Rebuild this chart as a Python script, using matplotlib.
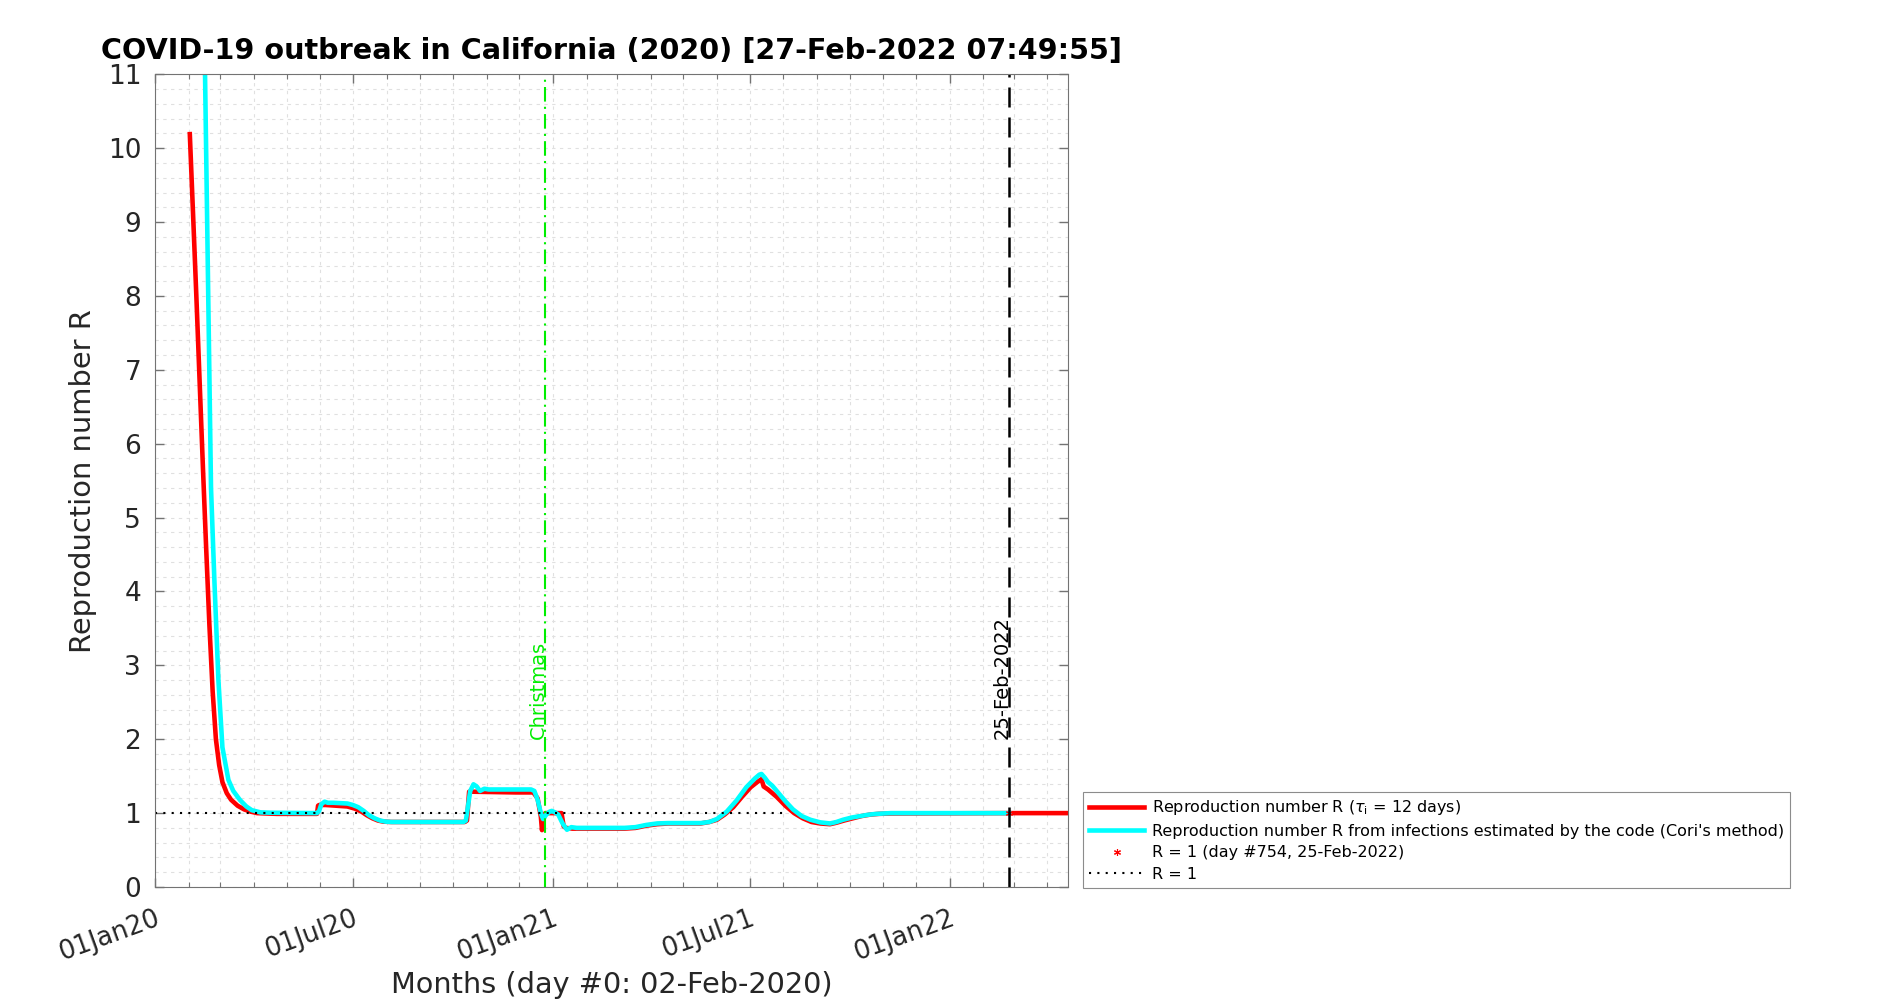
import numpy as np
import matplotlib
matplotlib.use("Agg")
import matplotlib.pyplot as plt
import matplotlib.dates as mdates
from matplotlib.ticker import MultipleLocator, FixedLocator

# Day numbers are counted from day #0 = 02-Feb-2020
day0 = mdates.datestr2num("2020-02-02")

# Reproduction number R (tau_i = 12 days)
red_days = [0, 3, 6, 9, 12, 15, 18, 21, 24, 27, 30, 34, 38, 44, 50, 56, 62, 80, 117,
            118, 119, 125, 135, 145, 152, 158, 163, 168, 173, 178, 185, 253, 255, 257,
            260, 300, 316, 320, 323, 324, 326, 327, 342, 344, 346, 352, 400, 410, 420,
            430, 440, 470, 478, 485, 492, 500, 508, 516, 522, 526, 528, 532, 540, 548,
            556, 564, 572, 580, 589, 595, 602, 610, 618, 626, 634, 645, 754, 830]
red_r = [10.19, 9.1, 8.0, 6.85, 5.7, 4.6, 3.55, 2.65, 2.0, 1.65, 1.42, 1.27, 1.18, 1.1,
         1.05, 1.02, 1.0, 0.99, 0.99,
         1.10, 1.11, 1.11, 1.10, 1.09, 1.06, 1.02, 0.97, 0.93, 0.90, 0.885, 0.88, 0.88,
         0.90, 1.29, 1.29, 1.28, 1.28, 1.2, 0.95, 0.77, 0.95, 1.0, 1.0, 0.82, 0.8, 0.79,
         0.79, 0.8, 0.83, 0.85, 0.86, 0.86, 0.88, 0.91, 0.98, 1.08, 1.22, 1.35, 1.42,
         1.46, 1.36, 1.32, 1.22, 1.1, 1.0, 0.93, 0.88, 0.86, 0.85, 0.87, 0.9, 0.93, 0.96,
         0.98, 0.99, 0.995, 1.0, 1.0]

# R from infections estimated by the code (Cori's method)
cyan_days = [10, 14, 19.5, 22.6, 26.3, 30, 35.5, 40, 46, 52, 57, 65, 75, 117, 119, 121,
             124, 127, 132, 145, 150, 155, 160, 165, 170, 175, 180, 186, 252, 254, 256,
             258, 261, 264, 267, 271, 275, 314, 317, 320, 323, 325, 328, 331, 333, 336,
             339, 343, 347, 351, 356, 400, 410, 420, 430, 440, 470, 478, 485, 494, 503,
             512, 520, 524, 526, 529, 532, 536, 540, 548, 555, 563, 571, 580, 589, 595,
             601, 609, 617, 625, 632, 645, 754]
cyan_r = [15.2, 11.0, 5.4, 4.15, 2.8, 1.89, 1.45, 1.3, 1.18, 1.09, 1.04, 1.01, 1.005,
          1.0, 1.03, 1.12, 1.155, 1.14, 1.14, 1.13, 1.11, 1.08, 1.03, 0.97, 0.93, 0.90,
          0.885, 0.88, 0.88, 0.9, 1.1, 1.3, 1.39, 1.36, 1.30, 1.33, 1.32, 1.32, 1.30,
          1.18, 1.0, 0.92, 0.98, 1.02, 1.03, 1.01, 0.98, 0.86, 0.775, 0.81, 0.8, 0.8,
          0.81, 0.84, 0.86, 0.865, 0.865, 0.88, 0.92, 1.02, 1.17, 1.35, 1.47, 1.52,
          1.53, 1.48, 1.42, 1.37, 1.30, 1.16, 1.05, 0.96, 0.91, 0.875, 0.86, 0.88, 0.91,
          0.94, 0.96, 0.98, 0.99, 1.0, 1.0]

r1_day = 754
christmas_day = 327
dotted_days = [-32, 547]

major_dates = ["2020-01-01", "2020-07-01", "2021-01-01", "2021-07-01", "2022-01-01"]
major_labels = ["01Jan20", "01Jul20", "01Jan21", "01Jul21", "01Jan22"]

fig = plt.figure(figsize=(19, 10), dpi=100)
ax = fig.add_axes([0.0816, 0.113, 0.4805, 0.8127])

ax.plot(day0 + np.array(red_days), red_r, color="red", lw=3.3,
        label=r"Reproduction number R ($\tau_{\rm i}$ = 12 days)")
ax.plot(day0 + np.array(cyan_days), cyan_r, color="cyan", lw=3.3,
        label="Reproduction number R from infections estimated by the code (Cori's method)")
ax.plot(day0 + r1_day, 1, ls="none", marker=(6, 2, 0), ms=5, mew=0.8, color="red",
        label="R = 1 (day #754, 25-Feb-2022)")
ax.plot(day0 + np.array(dotted_days), [1, 1], color="black", lw=1.5, ls=(0, (1, 3)),
        label="R = 1")

ax.axvline(day0 + christmas_day, color="#00ee00", lw=1.5, ls=(0, (7, 2.5, 1, 2.5)))
ax.axvline(day0 + r1_day, color="black", lw=1.8, ls=(0, (8, 4)))
ax.text(day0 + christmas_day + 2, 2, "Christmas", rotation=90, rotation_mode="anchor",
        ha="left", va="bottom", color="#00ee00", fontsize=14)
ax.text(day0 + r1_day + 2, 2, "25-Feb-2022", rotation=90, rotation_mode="anchor",
        ha="left", va="bottom", color="black", fontsize=14)

ax.set_xlim(mdates.datestr2num("2020-01-01"), mdates.datestr2num("2022-04-20"))
ax.set_ylim(0, 11)

ax.xaxis.set_major_locator(FixedLocator([mdates.datestr2num(d) for d in major_dates]))
ax.set_xticklabels(major_labels, rotation=20, ha="right", rotation_mode="anchor")
ax.xaxis.set_minor_locator(mdates.MonthLocator())
ax.yaxis.set_major_locator(MultipleLocator(1))
ax.yaxis.set_minor_locator(MultipleLocator(0.2))

ax.tick_params(which="both", direction="in", top=True, right=True, colors="0.45",
               labelcolor="0.15")
ax.tick_params(which="major", length=6.5, width=1)
ax.tick_params(axis="x", which="minor", length=3.5, width=0.8)
ax.tick_params(axis="y", which="minor", length=0)
ax.tick_params(axis="x", labelsize=18.5, pad=13)
ax.tick_params(axis="y", labelsize=19, pad=10)
for s in ax.spines.values():
    s.set_color("0.45")

ax.grid(True, which="both", color="0.88", ls=(0, (3, 4)), lw=0.8)
ax.set_axisbelow(True)

ax.set_title("COVID-19 outbreak in California (2020) [27-Feb-2022 07:49:55]",
             fontsize=20.6, fontweight="bold", pad=11)
ax.set_xlabel("Months (day #0: 02-Feb-2020)", fontsize=20.7, color="0.15", labelpad=4)
ax.set_ylabel("Reproduction number R", fontsize=20.8, color="0.15", labelpad=8)

leg = ax.legend(loc="lower left", bbox_to_anchor=(0.570, 0.112),
                bbox_transform=fig.transFigure, borderaxespad=0, fontsize=11.5,
                fancybox=False, framealpha=1, edgecolor="0.55", handlelength=3.4,
                handletextpad=0.5, labelspacing=0.4)
leg.get_frame().set_linewidth(0.8)

fig.savefig("out.png", dpi=100)
